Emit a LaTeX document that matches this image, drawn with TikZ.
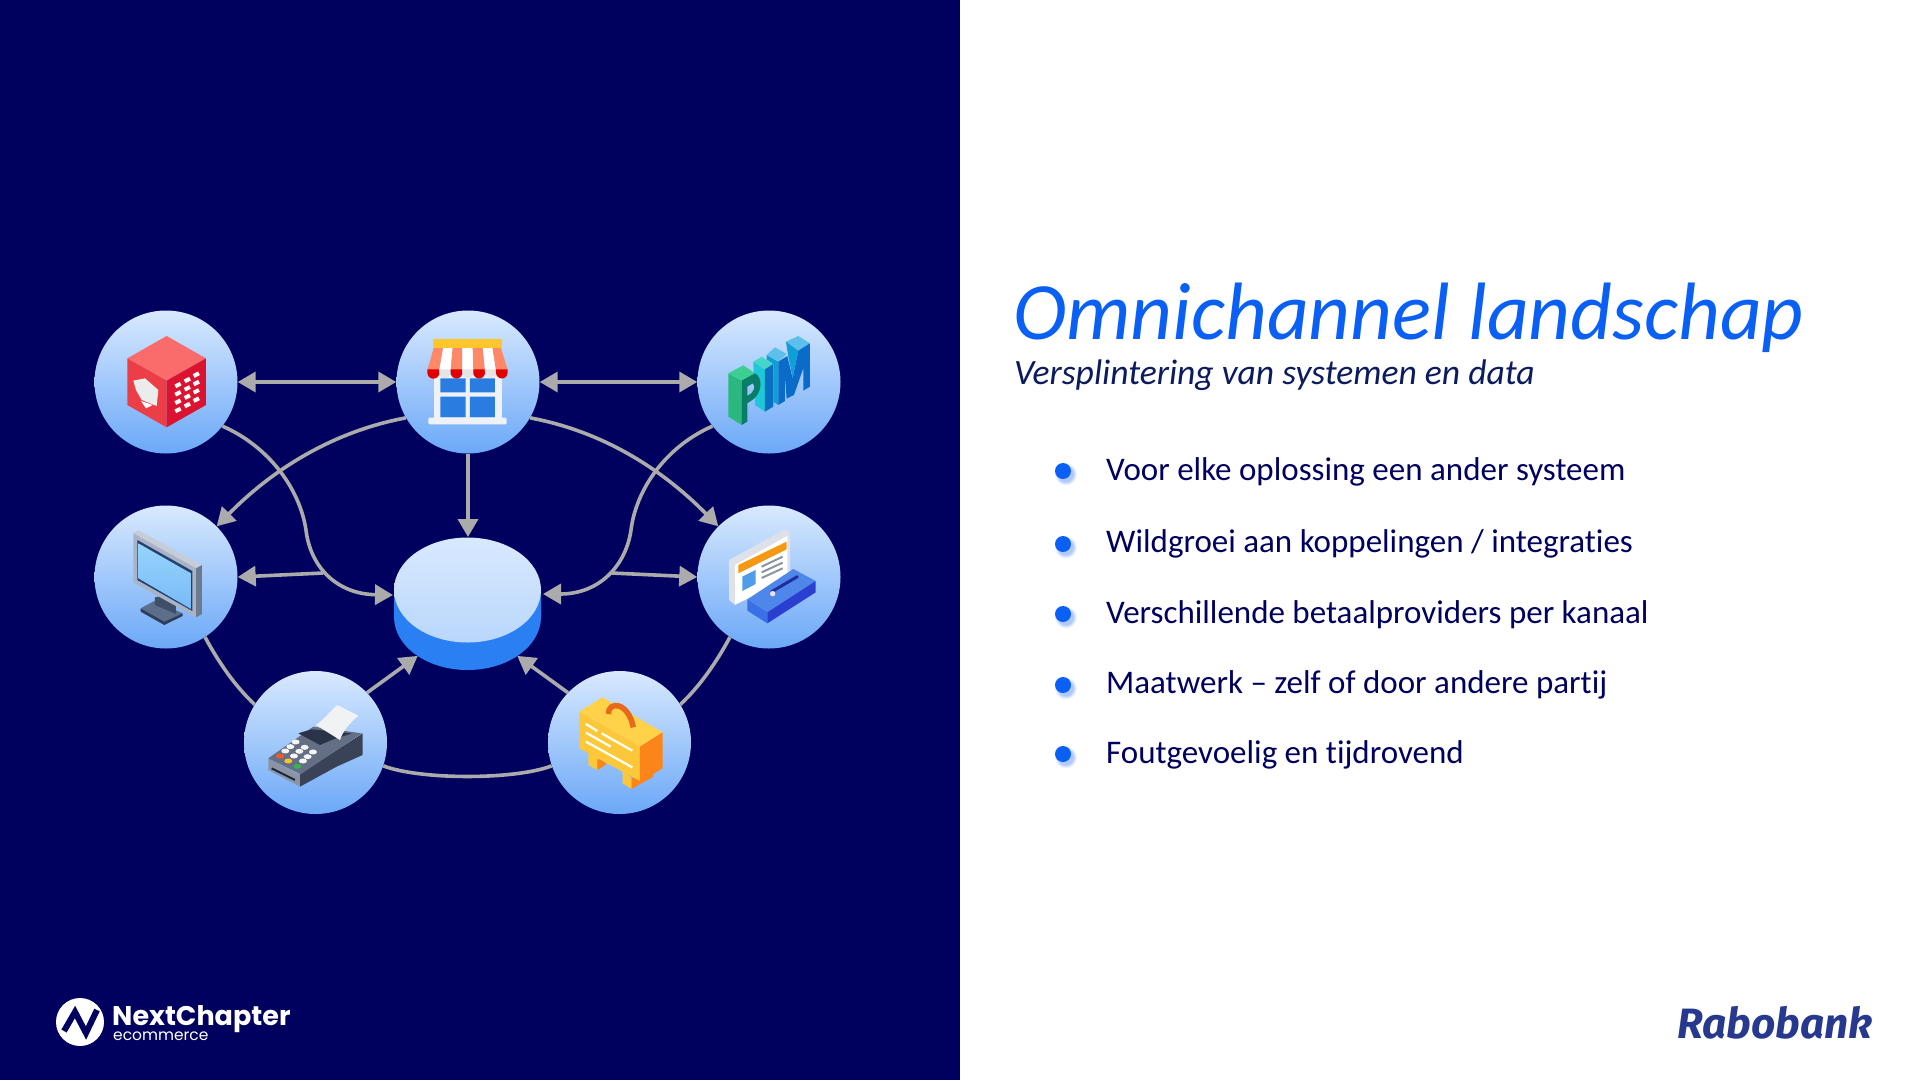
\documentclass[tikz,border=0pt]{standalone}
\usepackage{fontspec}
\setmainfont{Carlito}[Ligatures=CommonOff]
\newfontfamily\poppinsfont{Poppins}
\newfontfamily\rabofont{Fira Sans}
\usetikzlibrary{arrows.meta,shapes.geometric}
\definecolor{navy}{HTML}{00005F}
\definecolor{wire}{HTML}{ABABAB}
\definecolor{hubtop}{HTML}{D8E9FE}
\definecolor{hubbot}{HTML}{6BA8F8}
\definecolor{brandblue}{HTML}{0A5FF5}
\definecolor{subnavy}{HTML}{0B1B5E}
\definecolor{rabo}{HTML}{27388F}
\tikzset{
  hub/.style={circle,minimum size=143pt,inner sep=0pt,top color=hubtop,bottom color=hubbot},
  flow/.style={draw=wire,line width=3.6pt},
  oneway/.style={flow,-{Triangle[length=18pt,width=20pt]}},
  twoway/.style={flow,{Triangle[length=18pt,width=20pt]}-{Triangle[length=18pt,width=20pt]}},
  zoomat/.style={shift={#1},x=0.3333pt,y=-0.3333pt},
  listtext/.style={anchor=base west,inner sep=0pt,text=navy,font=\fontsize{33}{38}\selectfont},
  dot/.style={circle,minimum size=16pt,inner sep=0pt,fill=brandblue}
}
\begin{document}
\begin{tikzpicture}[x=1pt,y=-1pt]
\useasboundingbox (0,0) rectangle (1920,1080);
\fill[white] (0,0) rectangle (1920,1080);
\fill[navy] (0,0) rectangle (960,1080);

% hubs
\node[hub] (cube) at (166,382) {};
\node[hub] (store) at (468,382) {};
\node[hub] (pim) at (769,382) {};
\node[hub] (screen) at (166,577) {};
\node[hub] (card) at (769,577) {};
\node[hub] (pos) at (315.5,742.5) {};
\node[hub] (bag) at (619.5,742.5) {};

% central disc
\node[ellipse,minimum width=147pt,minimum height=105pt,inner sep=0pt] (erpbase) at (467.5,617) {};
\fill[color={rgb,255:red,42;green,128;blue,242}] (394,590) -- (394,617) arc[start angle=180,end angle=0,x radius=73.5,y radius=53] -- (541,590) -- cycle;
\node[ellipse,minimum width=147pt,minimum height=105pt,inner sep=0pt,top color=hubtop,bottom color=hubtop!72!hubbot] (erp) at (467.5,590) {};
\coordinate (erpL) at (393,595);
\coordinate (erpR) at (543,594);
\coordinate (erpT) at (468,537);
\coordinate (juncL) at (323,573);
\coordinate (juncR) at (612,573);

% connectors
\draw[twoway] (cube.east) -- (store.west);
\draw[twoway] (store.east) -- (pim.west);
\draw[oneway] (store.south) -- (erpT);
\draw[oneway] (cube.-38) .. controls (270,447) and (300,490) .. (306,530) .. controls (310,565) and (335,594) .. (erpL);
\draw[oneway] (pim.218) .. controls (665,447) and (636,490) .. (631,530) .. controls (626,565) and (600,594) .. (erpR);
\draw[oneway] (store.210) .. controls (330,432) and (270,472) .. (screen.45);
\draw[oneway] (store.-30) .. controls (606,432) and (665,472) .. (card.135);
\draw[oneway] (juncL) -- (screen.east);
\draw[oneway] (juncR) -- (card.west);
\draw[flow] (screen.-57) .. controls (220,665) and (237,688) .. (pos.148);
\draw[flow] (card.237) .. controls (715,665) and (698,688) .. (bag.32);
\draw[flow] (pos.-19) .. controls (420,780) and (515,780) .. (bag.199);
\draw[oneway] (pos.44) -- (erpbase.218);
\draw[oneway] (bag.136) -- (erpbase.-38);

% cube icon
\begin{scope}[zoomat={(60,290)}]
\fill[color={rgb,255:red,250;green,108;blue,108}] (320,138) -- (438,205) -- (320,272) -- (202,205) -- cycle;
\fill[color={rgb,255:red,236;green,62;blue,70}] (202,205) -- (320,272) -- (320,412) -- (202,345) -- cycle;
\fill[color={rgb,255:red,219;green,18;blue,48}] (438,205) -- (320,272) -- (320,412) -- (438,345) -- cycle;
\fill[gray!15] (220,272) -- (255,265) -- (295,300) -- (290,348) -- (245,330) -- (228,300) -- cycle;
\fill[white] (243,333) -- (278,345) -- (258,355) -- cycle;
\foreach \cx/\cy in {354/285,382/270,409/254,354/310,382/295,409/279,354/335,382/320,409/304,354/360,382/345,409/329}
  \draw[white,line width=4pt] (\cx-8,\cy+4) -- (\cx+8,\cy-4);
\end{scope}

% store icon
\begin{scope}[zoomat={(410,325)}]
\fill[color={rgb,255:red,238;green,242;blue,248}] (72,150) rectangle (275,285);
\fill[color={rgb,255:red,42;green,125;blue,224}] (91,160) rectangle (167,202) (180,160) rectangle (255,202) (91,215) rectangle (167,277) (180,215) rectangle (255,277);
\fill[rounded corners=1pt,color={rgb,255:red,238;green,242;blue,248}] (55,278) rectangle (290,298);
\foreach \i/\ta/\tb/\ba/\bb in {0/72/100/52/88,1/100/128/88/122,2/128/157/122/157,3/157/188/157/190,4/188/218/190/225,5/218/247/225/258,6/247/272/258/293}{
  \ifodd\i\relax \def\stripecol{white}\def\scalcol{gray!20}\else\def\stripecol{red!55!orange!60!white}\def\scalcol{red!88!black}\fi
  \fill[\stripecol] (\ta,66) -- (\tb,66) -- (\bb,135) -- (\ba,135) -- cycle;
  \fill[\scalcol] (\ba,133) -- (\bb,133) -- (\bb,143) arc[start angle=0,end angle=180,radius=(\bb-\ba)/2] -- cycle;
}
\fill[color={rgb,255:red,253;green,198;blue,44}] (70,42) rectangle (275,68);
\end{scope}

% PIM icon
\begin{scope}[zoomat={(440,290)}]
\fill[color={rgb,255:red,43;green,184;blue,126}] (865,250) -- (905,272) -- (905,405) -- (865,380) -- cycle;
\fill[color={rgb,255:red,60;green,206;blue,146}] (865,250) -- (910,226) -- (945,250) -- (905,272) -- cycle;
\fill[color={rgb,255:red,30;green,200;blue,216}] (940,215) -- (975,238) -- (975,365) -- (945,345) -- cycle;
\fill[color={rgb,255:red,70;green,214;blue,200}] (940,215) -- (965,200) -- (1000,222) -- (975,238) -- cycle;
\fill[color={rgb,255:red,10;green,125;blue,104},even odd rule] (905,405) -- (905,272) -- (945,250) .. controls (968,262) and (968,305) .. (940,328) -- (922,340) -- (922,395) -- cycle (922,290) -- (938,280) .. controls (948,288) and (945,305) .. (922,318) -- cycle;
\fill[color={rgb,255:red,10;green,111;blue,192}] (975,238) -- (1000,222) -- (1000,350) -- (975,365) -- cycle;
\fill[color={rgb,255:red,14;green,159;blue,216}] (980,195) -- (1015,215) -- (1015,345) -- (1000,335) -- (1000,222) -- (980,208) -- cycle;
\fill[color={rgb,255:red,92;green,192;blue,234}] (980,195) -- (1005,172) -- (1040,192) -- (1015,215) -- cycle;
\fill[color={rgb,255:red,92;green,192;blue,234}] (1038,155) -- (1075,138) -- (1110,160) -- (1075,182) -- cycle;
\fill[color={rgb,255:red,14;green,159;blue,216}] (1038,155) -- (1075,182) -- (1058,262) -- (1045,200) -- cycle;
\fill[color={rgb,255:red,10;green,108;blue,200}] (1015,215) -- (1042,198) -- (1058,265) -- (1075,182) -- (1110,160) -- (1110,290) -- (1090,302) -- (1090,235) -- (1062,315) -- (1040,326) -- (1035,262) -- (1035,333) -- (1015,345) -- cycle;
\end{scope}

% screen icon
\begin{scope}[zoomat={(110,510)}]
\fill[color={rgb,255:red,44;green,62;blue,92}] (92,295) -- (92,305) -- (163,345) -- (218,318) -- (218,310) -- cycle;
\fill[color={rgb,255:red,92;green,110;blue,138}] (92,295) -- (135,272) -- (218,310) -- (163,335) -- cycle;
\fill[color={rgb,255:red,63;green,79;blue,104}] (135,262) -- (155,258) -- (198,285) -- (198,312) -- (135,285) -- cycle;
\fill[color={rgb,255:red,198;green,205;blue,216}] (70,70) -- (85,60) -- (276,165) -- (258,175) -- cycle;
\fill[color={rgb,255:red,108;green,122;blue,144}] (258,175) -- (276,165) -- (276,312) -- (258,322) -- cycle;
\fill[color={rgb,255:red,168;green,180;blue,198}] (70,70) -- (258,175) -- (258,322) -- (70,217) -- cycle;
\fill[color={rgb,255:red,37;green,64;blue,110}] (82,90) -- (247,183) -- (247,303) -- (82,210) -- cycle;
\shade[top color={rgb,255:red,150;green,212;blue,252},bottom color={rgb,255:red,120;green,186;blue,248}] (85,100) -- (243,190) -- (243,297) -- (85,205) -- cycle;
\end{scope}

% card icon
\begin{scope}[zoomat={(710,510)}]
\fill[color={rgb,255:red,222;green,226;blue,232}] (57,150) -- (225,58) -- (240,68) -- (240,205) -- (75,285) -- (57,270) -- cycle;
\fill[white] (75,165) -- (232,78) -- (232,210) -- (75,283) -- cycle;
\fill[color={rgb,255:red,243;green,154;blue,18}] (85,165) -- (230,95) -- (230,118) -- (85,190) -- cycle;
\fill[color={rgb,255:red,79;green,157;blue,232}] (97,200) -- (137,180) -- (137,222) -- (97,243) -- cycle;
\draw[color={rgb,255:red,138;green,148;blue,160},line width=2pt] (155,170) -- (218,140) (155,187) -- (218,158) (155,204) -- (218,175);
\fill[color={rgb,255:red,78;green,134;blue,234}] (112,268) -- (250,177) -- (317,213) -- (172,307) -- cycle;
\fill[color={rgb,255:red,59;green,111;blue,230}] (112,268) -- (172,307) -- (172,340) -- (112,302) -- cycle;
\fill[color={rgb,255:red,42;green,63;blue,208}] (172,307) -- (317,213) -- (317,247) -- (172,340) -- cycle;
\draw[color={rgb,255:red,28;green,47;blue,156},line width=3pt,line cap=round] (185,245) -- (262,200);
\fill[white!90!blue] (188,251) circle[radius=2.7pt];
\end{scope}

% terminal icon
\begin{scope}[zoomat={(60,570)}]
\fill[color={rgb,255:red,58;green,66;blue,88}] (720,612) -- (908,490) -- (908,555) -- (830,590) -- (720,650) -- cycle;
\fill[color={rgb,255:red,138;green,148;blue,166}] (625,565) -- (720,615) -- (720,650) -- (625,600) -- cycle;
\fill[color={rgb,255:red,100;green,110;blue,132}] (625,565) -- (760,470) -- (905,490) -- (722,613) -- cycle;
\draw[color={rgb,255:red,30;green,36;blue,50},line width=2pt] (635,595) -- (705,630);
\fill[color={rgb,255:red,42;green,51;blue,72}] (715,490) -- (755,478) -- (875,490) -- (815,510) -- (780,525) -- cycle;
\fill[color={rgb,255:red,240;green,242;blue,244}] (768,465) .. controls (790,450) and (810,425) .. (832,405) -- (895,437) .. controls (870,460) and (850,480) .. (840,510) -- cycle;
\foreach \kx/\ky in {707/516,734/532,759/546,691/530,718/544,743/560,676/543,702/558,729/573}
  \fill[white!92!gray] (\kx,\ky) ellipse[x radius=4pt,y radius=2.5pt];
\fill[color={rgb,255:red,236;green,92;blue,40}] (660,558) ellipse[x radius=4pt,y radius=2.5pt];
\fill[color={rgb,255:red,250;green,196;blue,40}] (685,573) ellipse[x radius=4pt,y radius=2.5pt];
\fill[color={rgb,255:red,60;green,176;blue,80}] (712,589) ellipse[x radius=4pt,y radius=2.5pt];
\end{scope}

% bag icon
\begin{scope}[zoomat={(440,570)}]
\fill[color={rgb,255:red,252;green,200;blue,58}] (445,540) -- (472,560) -- (472,600) -- (445,585) -- cycle;
\fill[color={rgb,255:red,251;green,133;blue,24}] (472,570) -- (497,560) -- (497,585) -- (472,600) -- cycle;
\fill[color={rgb,255:red,252;green,200;blue,58}] (548,600) -- (575,625) -- (575,657) -- (548,640) -- cycle;
\fill[color={rgb,255:red,251;green,133;blue,24}] (575,625) -- (640,605) -- (640,620) -- (575,657) -- cycle;
\fill[color={rgb,255:red,255;green,210;blue,74}] (418,425) -- (487,382) -- (668,487) -- (600,530) -- cycle;
\fill[color={rgb,255:red,252;green,200;blue,58}] (418,425) -- (600,530) -- (600,633) -- (418,535) -- cycle;
\fill[color={rgb,255:red,251;green,133;blue,24}] (600,530) -- (668,487) -- (668,595) -- (600,635) -- cycle;
\draw[color={rgb,255:red,233;green,105;blue,26},line width=5.5pt] (505,432) .. controls (505,392) and (565,395) .. (580,472);
\draw[white!94!yellow,line width=2.3pt] (438,462) -- (472,483) (438,488) -- (512,530) (485,490) -- (577,542) (438,515) -- (577,592);
\end{scope}

% right panel text
\node[anchor=base west,inner sep=0pt,text=brandblue,font=\fontsize{81.4}{90}\selectfont\itshape] (title) at (1013,339) {Omnichannel landschap};
\node[anchor=base west,inner sep=0pt,text=subnavy,font=\fontsize{35.6}{42}\selectfont\itshape] (subtitle) at (1014,384.5) {Versplintering van systemen en data};

\foreach \by in {471,544,614,685,754}{
  \foreach \grow/\op in {11/0.06,10/0.08,9/0.1,8/0.12}
    \fill[brandblue,opacity=\op] (1066,\by+3.5) circle[radius=\grow pt];
}
\node[dot] (b1) at (1063,471) {};
\node[dot] (b2) at (1063,544) {};
\node[dot] (b3) at (1063,614) {};
\node[dot] (b4) at (1063,685) {};
\node[dot] (b5) at (1063,754) {};
\node[listtext] (t1) at (1106,480) {Voor elke oplossing een ander systeem};
\node[listtext] (t2) at (1106,552) {Wildgroei aan koppelingen / integraties};
\node[listtext] (t3) at (1106,623) {Verschillende betaalproviders per kanaal};
\node[listtext] (t4) at (1106,693) {Maatwerk – zelf of door andere partij};
\node[listtext] (t5) at (1106,763) {Foutgevoelig en tijdrovend};

% logos
\fill[white] (80,1022) circle[radius=24pt];
\draw[navy,line width=6pt,line join=miter] (64,1031) -- (75,1012) -- (86,1033) -- (97,1010);
\node[anchor=base west,inner sep=0pt,text=white,font=\poppinsfont\bfseries\fontsize{27}{30}\selectfont] (nc) at (112,1025) {NextChapter};
\node[anchor=base west,inner sep=0pt,text=white,font=\poppinsfont\fontsize{15.5}{18}\selectfont] (ec) at (113,1040) {ecommerce};
\node[anchor=base west,inner sep=0pt,text=rabo,font=\rabofont\bfseries\itshape\fontsize{42.4}{50}\selectfont] (rb) at (1677,1038) {Rabobank};
\end{tikzpicture}
\end{document}
